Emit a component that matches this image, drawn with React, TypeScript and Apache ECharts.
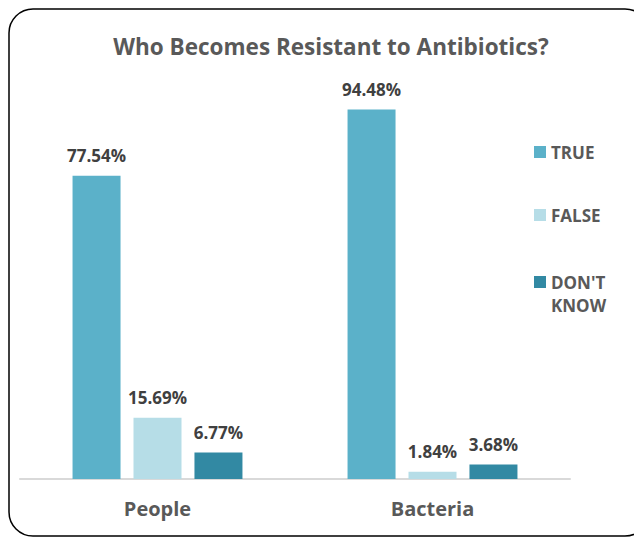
import React, { useEffect, useRef } from "react";
import * as echarts from "echarts";

const categories = ["People", "Bacteria"];
const seriesNames = ["TRUE", "FALSE", "DON'T KNOW"];
const trueValues = [77.54, 94.48];
const falseValues = [15.69, 1.84];
const dontKnowValues = [6.77, 3.68];
const colors = ["#5BB1C9", "#B6DDE7", "#3289A3"];

export default function App() {
  const ref = useRef<HTMLDivElement>(null);
  useEffect(() => {
    const chart = echarts.init(ref.current!, undefined, { renderer: "svg" });
    const font = "'Open Sans', sans-serif";
    const label = {
      show: true,
      position: "top" as const,
      distance: 12,
      formatter: (p: any) => p.value.toFixed(2) + "%",
      color: "#404040",
      fontWeight: "bold" as const,
      fontSize: 17,
      fontFamily: font,
    };
    const data = [trueValues, falseValues, dontKnowValues];
    const legendText = {
      color: "#595959",
      fontSize: 17,
      fontWeight: "bold" as const,
      fontFamily: font,
      lineHeight: 23,
    };
    chart.setOption({
      animation: false,
      backgroundColor: "#ffffff",
      title: {
        text: "Who Becomes Resistant to Antibiotics?",
        left: 326,
        top: 30,
        textAlign: "center",
        textStyle: { color: "#595959", fontSize: 22.5, fontWeight: "bold", fontFamily: font },
      },
      graphic: [
        {
          type: "rect",
          shape: { x: 9, y: 9, width: 640, height: 527, r: 24 },
          style: { fill: "none", stroke: "#000000", lineWidth: 1.5 },
          silent: true,
        },
      ],
      legend: [
        {
          orient: "vertical",
          left: 534,
          top: 140.5,
          padding: 0,
          itemWidth: 12,
          itemHeight: 12,
          itemGap: 40,
          icon: "rect",
          textStyle: legendText,
          data: ["TRUE", "FALSE"],
        },
        {
          orient: "vertical",
          left: 534,
          top: 247.5,
          padding: 0,
          itemWidth: 12,
          itemHeight: 12,
          icon: "rect",
          textStyle: legendText,
          data: ["DON'T KNOW"],
          formatter: () => " \nDON'T\nKNOW",
        },
      ],
      grid: { left: 20, right: 64, top: 88, bottom: 59 },
      xAxis: {
        type: "category",
        data: categories,
        axisLine: { lineStyle: { color: "#D9D9D9", width: 2 } },
        axisTick: { show: false },
        axisLabel: { color: "#595959", fontSize: 20, fontWeight: "bold", fontFamily: font, margin: 19 },
      },
      yAxis: {
        type: "value",
        min: 0,
        max: 100,
        show: false,
        splitLine: { show: false },
      },
      series: seriesNames.map((name, i) => ({
        name,
        type: "bar",
        data: data[i],
        barWidth: 48,
        barGap: "27%",
        itemStyle: { color: colors[i] },
        label,
      })),
    });
    return () => chart.dispose();
  }, []);
  return (
    <div
      ref={ref}
      style={{ position: "fixed", left: 0, top: 0, width: 634, height: 538 }}
    />
  );
}
